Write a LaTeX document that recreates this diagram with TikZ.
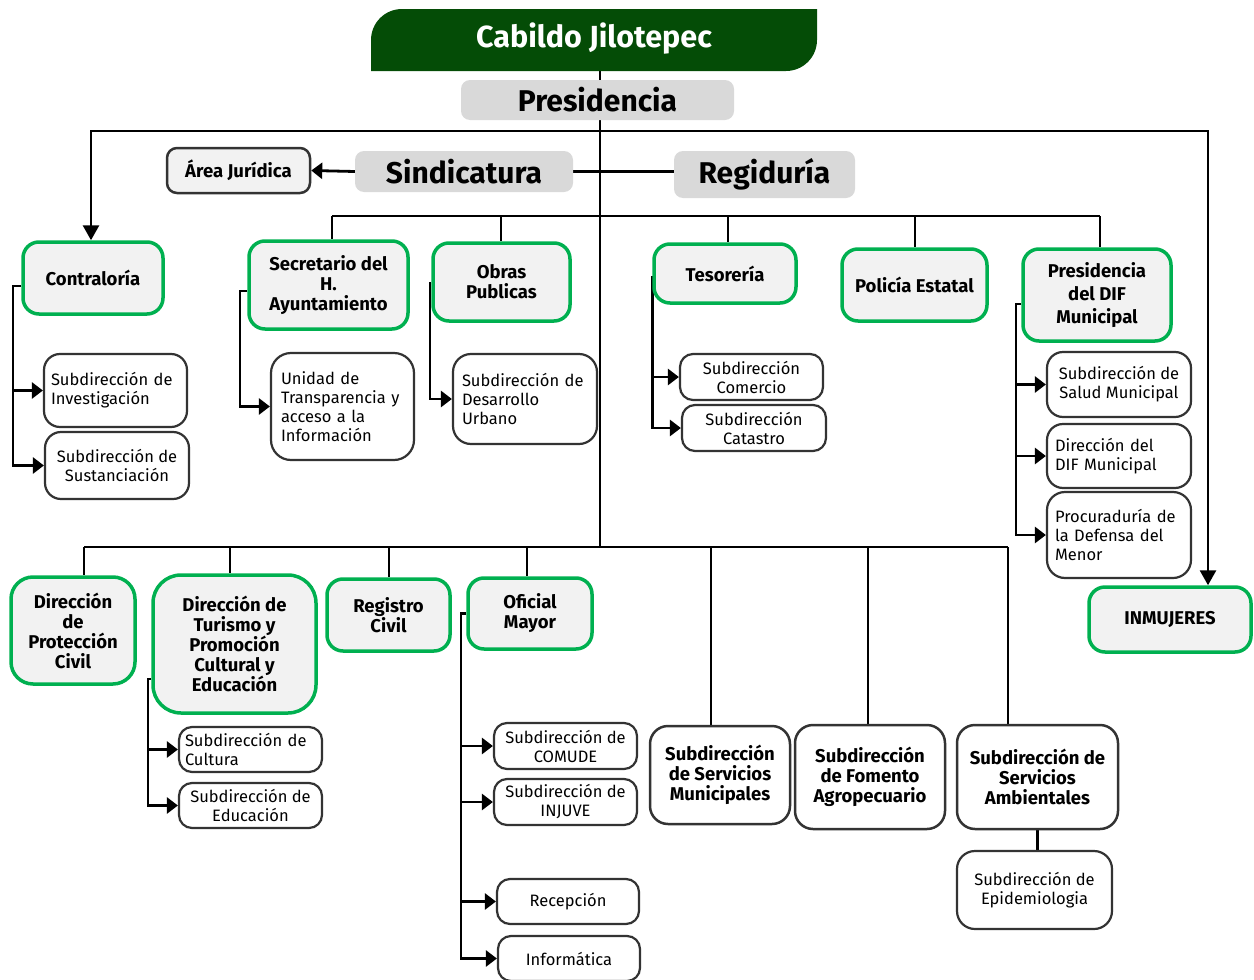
\documentclass[tikz,border=0pt]{standalone}
\usepackage{fontspec}
\setmainfont{Fira Sans}
\usetikzlibrary{arrows.meta,backgrounds}
\definecolor{titlegreen}{RGB}{4,76,6}
\definecolor{boxgreen}{RGB}{0,176,80}
\definecolor{boxfill}{RGB}{242,242,242}
\definecolor{hdrgray}{RGB}{217,217,217}
\definecolor{boxgray}{RGB}{51,51,51}
\begin{document}
\begin{tikzpicture}[x=1pt,y=-1pt,
  gbox/.style={draw=boxgreen, line width=3.5pt, fill=boxfill, rounded corners=16pt, inner sep=0pt, align=center, font=\bfseries\fontsize{18.5}{20}\selectfont},
  wbox/.style={draw=boxgray, line width=2.5pt, fill=white, rounded corners=18pt, inner sep=0pt, align=center, font=\bfseries\fontsize{18.5}{20}\selectfont},
  sbox/.style={draw=boxgray, line width=2.2pt, fill=white, rounded corners=13pt, inner sep=0pt, font=\fontsize{16.5}{19}\selectfont},
  jbox/.style={draw=boxgray, line width=2.5pt, fill=boxfill, rounded corners=10pt, inner sep=0pt, align=center, font=\bfseries\fontsize{18.5}{20}\selectfont},
  hdrbox/.style={fill=hdrgray, rounded corners=9pt, inner sep=0pt, font=\bfseries\fontsize{30}{32}\selectfont},
  conn/.style={line width=2.8pt, black},
  arr/.style={conn, -{Triangle[length=11pt,width=16pt]}},
  bigarr/.style={conn, -{Triangle[length=15pt,width=16pt]}}
]
\useasboundingbox (0,0) rectangle (1254,980);

% title shape
\fill[titlegreen] (371,71) -- (371,40) [rounded corners=31pt] -- (371,9) -- (600,9) [sharp corners] -- (817,9) -- (817,40) [rounded corners=31pt] -- (817,71) -- (600,71) [sharp corners] -- cycle;
\node[font=\bfseries\fontsize{30.5}{32}\selectfont, text=white] (cab) at (594,39) {Cabildo Jilotepec};

% header boxes
\node[hdrbox, minimum width=273pt, minimum height=40pt] (pres) at (597.5,100) {Presidencia};
\node[hdrbox, minimum width=218pt, minimum height=41pt] (sind) at (464,171.5) {Sindicatura};
\node[hdrbox, minimum width=181pt, minimum height=47pt] (regi) at (764.5,174.5) {Regiduría};
\node[jbox, minimum width=143pt, minimum height=45pt] (juri) at (238.5,170.5) {Área Jurídica};

% green boxes, upper row
\node[gbox, minimum width=140pt, minimum height=72pt] (contra) at (93,278) {Contraloría};
\node[gbox, minimum width=159pt, minimum height=88pt] (secre) at (328.5,285) {Secretario del\\H.\\Ayuntamiento};
\node[gbox, minimum width=137pt, minimum height=78pt] (obras) at (501.5,282) {Obras\\Publicas};
\node[gbox, minimum width=142pt, minimum height=59pt] (teso) at (725,273.5) {Tesorería};
\node[gbox, minimum width=145pt, minimum height=72pt] (poli) at (914.5,285) {Policía Estatal};
\node[gbox, minimum width=148pt, minimum height=92pt, font=\bfseries\fontsize{18.5}{23}\selectfont] (dif) at (1097,295) {Presidencia\\del DIF\\Municipal};
\node[gbox, minimum width=162pt, minimum height=65pt] (inmu) at (1170,619.5) {INMUJERES};

% green boxes, lower row
\node[gbox, minimum width=124pt, minimum height=107pt, rounded corners=22pt] (pciv) at (73,630.5) {Dirección\\de\\Protección\\Civil};
\node[gbox, minimum width=163pt, minimum height=138pt, rounded corners=28pt] (turi) at (234.5,644) {Dirección de\\Turismo y\\Promoción\\Cultural y\\Educación};
\node[gbox, minimum width=123pt, minimum height=72pt] (regc) at (388.5,615) {Registro\\Civil};
\node[gbox, minimum width=124pt, minimum height=71pt] (ofic) at (530,613.5) {Oficial\\Mayor};

% white bold boxes
\node[wbox, minimum width=140pt, minimum height=98pt] (smun) at (720,775) {Subdirección\\de Servicios\\Municipales};
\node[wbox, minimum width=150pt, minimum height=104pt] (sfom) at (870,777) {Subdirección\\de Fomento\\Agropecuario};
\node[wbox, minimum width=161pt, minimum height=104pt] (samb) at (1037.5,777) {Subdirección de\\Servicios\\Ambientales};
\node[sbox, align=center, minimum width=155pt, minimum height=78pt, rounded corners=18pt] (sepi) at (1034.5,890) {Subdirección de\\Epidemiologia};

% small boxes
\node[sbox, align=left, text width=129pt, minimum width=143pt, minimum height=73pt, rounded corners=16pt] (inv) at (115.5,390.5) {Subdirección de\\Investigación};
\node[sbox, align=center, minimum width=144pt, minimum height=67pt, rounded corners=16pt] (sus) at (117,465.5) {Subdirección de\\Sustanciación};
\node[sbox, align=left, text width=123pt, minimum width=143pt, minimum height=107pt, rounded corners=20pt] (utr) at (342.5,406.5) {Unidad de\\Transparencia y\\acceso a la\\Información};
\node[sbox, align=left, text width=126pt, minimum width=144pt, minimum height=90pt, rounded corners=18pt] (dur) at (525,399) {Subdirección de\\Desarrollo\\Urbano};
\node[sbox, align=center, minimum width=143pt, minimum height=46pt] (com) at (751.5,377) {Subdirección\\Comercio};
\node[sbox, align=center, minimum width=144pt, minimum height=46pt] (cat) at (754,428) {Subdirección\\Catastro};
\node[sbox, align=center, minimum width=144pt, minimum height=65pt, rounded corners=16pt] (sal) at (1119,384.5) {Subdirección de\\Salud Municipal};
\node[sbox, align=left, text width=128pt, minimum width=144pt, minimum height=64pt, rounded corners=16pt] (ddif) at (1119,456) {Dirección del\\DIF Municipal};
\node[sbox, align=left, text width=128pt, minimum width=144pt, minimum height=86pt, rounded corners=18pt] (pmen) at (1119,535) {Procuraduría de\\la Defensa del\\Menor};
\node[sbox, align=left, text width=131pt, minimum width=143pt, minimum height=45pt] (cul) at (250.5,749.5) {Subdirección de\\Cultura};
\node[sbox, align=center, minimum width=143pt, minimum height=45pt] (edu) at (250.5,805.5) {Subdirección de\\Educación};
\node[sbox, align=center, minimum width=143pt, minimum height=46pt] (comu) at (565.5,746) {Subdirección de\\COMUDE};
\node[sbox, align=center, minimum width=143pt, minimum height=46pt] (inj) at (565.5,802) {Subdirección de\\INJUVE};
\node[sbox, align=center, minimum width=142pt, minimum height=45pt] (rec) at (568,901.5) {Recepción};
\node[sbox, align=center, minimum width=142pt, minimum height=45pt] (inf) at (569,958.5) {Informática};

\begin{scope}[on background layer]
  \coordinate (ttop) at (600,71);
  \coordinate (tbot) at (600,547);
  \coordinate (bar1) at (600,131);
  \draw[conn] (ttop) -- (tbot);
  % top bar
  \draw[bigarr] (bar1) -| (contra.north -| 91,0);
  \draw[bigarr] (bar1) -| (inmu.north -| 1208,0);
  % sindicatura / regiduria
  \draw[conn] (sind.east) -- (sind.east -| regi.west);
  \draw[arr] (sind.west) -- (juri.east);
  % second bar
  \draw[conn] (332,216) -- (1100,216);
  \draw[conn] (332,216) -- (secre.north -| 332,0);
  \draw[conn] (501,216) -- (obras.north -| 501,0);
  \draw[conn] (728,216) -- (teso.north -| 728,0);
  \draw[conn] (915,216) -- (poli.north -| 915,0);
  \draw[conn] (1100,216) -- (dif.north -| 1100,0);
  % third bar
  \draw[conn] (84,547) -- (1008,547);
  \foreach \n/\x in {pciv/84, turi/230, regc/389, ofic/527, smun/711, sfom/868, samb/1008}
    \draw[conn] (\x,547) -- (\n.north -| \x,0);
  \draw[conn] (samb.south) -- (samb.south |- sepi.north);
  % Contraloria
  \draw[arr] (contra.west |- 0,286) -| (13,0 |- inv.west) -- (inv.west);
  \draw[arr] (13,0 |- inv.west) |- (sus.west);
  % Secretario
  \draw[arr] (secre.west |- 0,291) -| (240,0 |- utr.west) -- (utr.west);
  % Obras
  \draw[arr] (obras.west |- 0,283) -| (430,0 |- dur.west) -- (dur.west);
  % Tesoreria
  \draw[arr] (teso.west |- 0,276) |- (com.west);
  \draw[arr] (teso.west |- 0,276) |- (cat.west);
  % DIF
  \draw[arr] (dif.west |- 0,304) -| (1016,0 |- sal.west) -- (sal.west);
  \draw[arr] (1016,0 |- sal.west) |- (ddif.west);
  \draw[arr] (1016,0 |- sal.west) |- (pmen.west);
  % Turismo
  \draw[arr] (turi.west |- 0,679) -| (148,0 |- cul.west) -- (cul.west);
  \draw[arr] (148,0 |- cul.west) |- (edu.west);
  % Oficial Mayor
  \draw[arr] (ofic.west) -| (461,0 |- comu.west) -- (comu.west);
  \draw[arr] (461,0 |- comu.west) |- (inj.west);
  \draw[arr] (461,0 |- comu.west) |- (rec.west);
  \draw[arr] (461,0 |- comu.west) |- (inf.west);
\end{scope}
\end{tikzpicture}
\end{document}
